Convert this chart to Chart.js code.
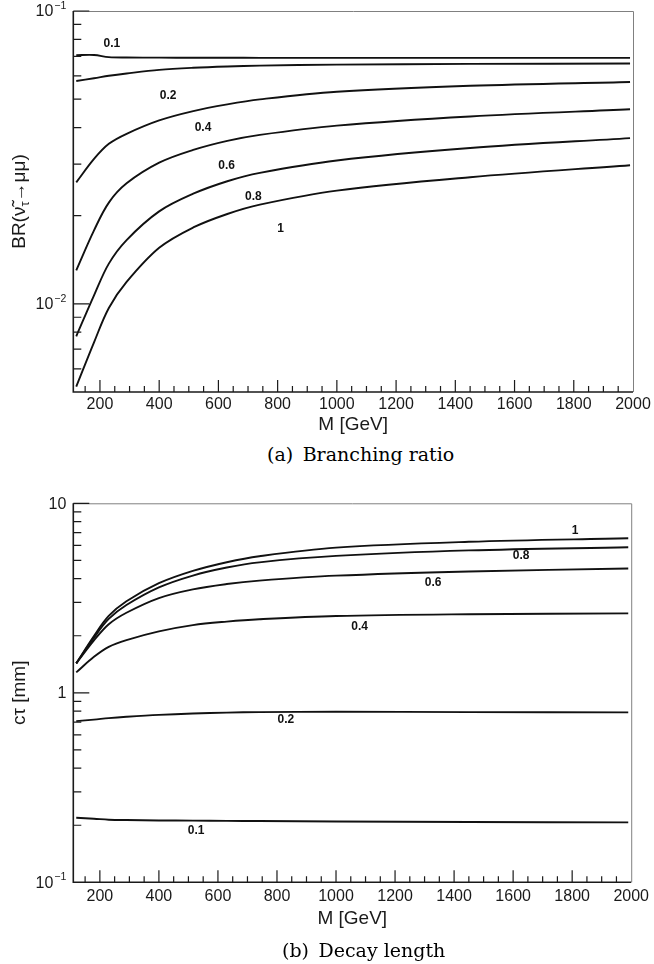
<!DOCTYPE html>
<html>
<head>
<meta charset="utf-8">
<script src="https://cdn.jsdelivr.net/npm/chart.js@4.4.0/dist/chart.umd.min.js"></script>
<style>
  body { margin: 0; background: #fff; width: 654px; height: 964px; position: relative; overflow: hidden; }
  canvas { position: absolute; left: 0; }
  #brCanvas { top: 0; }
  #ctCanvas { top: 480px; }
  .cap { position: absolute; font-family: "DejaVu Serif", serif; font-size: 19px; line-height: 19px; color: #000; white-space: pre; }
</style>
</head>
<body>
<canvas id="brCanvas" width="654" height="440"></canvas>
<canvas id="ctCanvas" width="654" height="460"></canvas>
<div class="cap" style="left:267px;top:445px">(a)&ensp;Branching ratio</div>
<div class="cap" style="left:282px;top:941px">(b)&ensp;Decay length</div>
<script>
const massGrid = [120, 180, 230, 290, 400, 515, 630, 740, 1000, 1450, 1990];
const couplings = ['0.1', '0.2', '0.4', '0.6', '0.8', '1'];

// (a) branching ratio, one array per coupling
const br01 = [0.07067, 0.07078, 0.06956, 0.06934, 0.06929, 0.06923, 0.06923, 0.06918, 0.06918, 0.06918, 0.06918];
const br02 = [0.05768, 0.05892, 0.06009, 0.06120, 0.06296, 0.06401, 0.06467, 0.06508, 0.06560, 0.06596, 0.06617];
const br04 = [0.02600, 0.03126, 0.03519, 0.03808, 0.04231, 0.04552, 0.04799, 0.04992, 0.05301, 0.05553, 0.05722];
const br06 = [0.01302, 0.01782, 0.02217, 0.02579, 0.03034, 0.03354, 0.03601, 0.03775, 0.04060, 0.04363, 0.04617];
const br08 = [0.00775, 0.01069, 0.01372, 0.01651, 0.02069, 0.02377, 0.02622, 0.02800, 0.03087, 0.03405, 0.03681];
const br10 = [0.00522, 0.00739, 0.00968, 0.01188, 0.01554, 0.01823, 0.02027, 0.02182, 0.02436, 0.02706, 0.02975];

// (b) decay length c*tau [mm]
const ct01 = [0.219, 0.2165, 0.214, 0.213, 0.212, 0.2115, 0.211, 0.2105, 0.2095, 0.208, 0.207];
const ct02 = [0.709, 0.722, 0.735, 0.747, 0.765, 0.778, 0.786, 0.791, 0.794, 0.791, 0.788];
const ct04 = [1.282, 1.549, 1.749, 1.898, 2.110, 2.277, 2.376, 2.444, 2.541, 2.597, 2.626];
const ct06 = [1.430, 1.889, 2.300, 2.645, 3.162, 3.515, 3.749, 3.907, 4.152, 4.370, 4.527];
const ct08 = [1.430, 1.954, 2.453, 2.904, 3.599, 4.157, 4.582, 4.881, 5.276, 5.641, 5.864];
const ct10 = [1.430, 1.995, 2.544, 3.042, 3.786, 4.396, 4.887, 5.257, 5.836, 6.262, 6.534];

// axis ticks
const xTickValues = [200, 400, 600, 800, 1000, 1200, 1400, 1600, 1800, 2000];
const brYTicks = [0.01, 0.1];
const brYLabels = [['10', '\u22122'], ['10', '\u22121']];
const ctYTicks = [0.1, 1, 10];
const ctYLabels = [['10', '\u22121'], ['1', ''], ['10', '']];

// curve label anchors (data units)
const brLabelM = [240, 430, 548, 628, 718, 810];
const brLabelV = [0.0775, 0.0515, 0.0401, 0.02965, 0.02323, 0.01799];
const ctLabelM = [526, 830, 1080, 1329, 1627, 1810];
const ctLabelV = [0.1866, 0.7176, 2.223, 3.795, 5.27, 7.18];

const FONT = '"Liberation Sans", Arial, Helvetica, sans-serif';
const INK = '#1a1a1a';

function rootPlugin(cfg) {
  return {
    id: 'rootFrame',
    afterDraw(chart) {
      const { ctx, chartArea: a, scales: { x, y } } = chart;
      ctx.save();
      // frame
      ctx.strokeStyle = '#808080';
      ctx.lineWidth = 1;
      ctx.beginPath();
      ctx.moveTo(a.left, a.top + 0.5);
      ctx.lineTo(a.right + 0.5, a.top + 0.5);
      ctx.lineTo(a.right + 0.5, a.bottom);
      ctx.stroke();
      ctx.strokeStyle = INK;
      ctx.lineWidth = 1.6;
      ctx.beginPath();
      ctx.moveTo(a.left, a.top);
      ctx.lineTo(a.left, a.bottom);
      ctx.lineTo(a.right, a.bottom);
      ctx.stroke();

      // ticks, drawn inside the frame
      ctx.lineWidth = 1.2;
      ctx.beginPath();
      for (let m = 150; m < 2000; m += 50) {
        const px = x.getPixelForValue(m);
        const len = xTickValues.includes(m) ? 12 : 6;
        ctx.moveTo(px, a.bottom);
        ctx.lineTo(px, a.bottom - len);
      }
      const d0 = Math.floor(Math.log10(cfg.yMin));
      const d1 = Math.ceil(Math.log10(cfg.yMax));
      for (let d = d0; d <= d1; d++) {
        for (let k = 1; k <= 9; k++) {
          const v = k * Math.pow(10, d);
          if (v <= cfg.yMin * 1.0001 || v > cfg.yMax * 1.0001) continue;
          const py = y.getPixelForValue(v);
          ctx.moveTo(a.left, py);
          ctx.lineTo(a.left + (k === 1 ? 16 : 8), py);
        }
      }
      ctx.stroke();

      // y tick labels with exponents
      ctx.fillStyle = INK;
      ctx.textBaseline = 'middle';
      ctx.textAlign = 'left';
      cfg.yTicks.forEach((v, i) => {
        const py = y.getPixelForValue(v);
        const [base, exp] = cfg.yLabels[i];
        ctx.font = `16px ${FONT}`;
        const wb = ctx.measureText(base).width;
        ctx.font = `10.5px ${FONT}`;
        const we = exp ? ctx.measureText(exp).width + 1 : 0;
        const right = a.left - 7;
        ctx.font = `16px ${FONT}`;
        ctx.fillText(base, right - we - wb, py + 1);
        if (exp) {
          ctx.font = `10.5px ${FONT}`;
          ctx.fillText(exp, right - we + 1, py - 5);
        }
      });

      // rotated y title
      let total = 0;
      cfg.yTitle.forEach(p => { ctx.font = `${p[1]}px ${FONT}`; total += ctx.measureText(p[0]).width; });
      ctx.save();
      ctx.translate(25, (a.top + a.bottom) / 2);
      ctx.rotate(-Math.PI / 2);
      ctx.textBaseline = 'alphabetic';
      let tx = -total / 2;
      cfg.yTitle.forEach(p => {
        ctx.font = `${p[1]}px ${FONT}`;
        ctx.fillText(p[0], tx, p[2]);
        tx += ctx.measureText(p[0]).width;
      });
      ctx.restore();

      // curve labels
      ctx.font = `bold 12px ${FONT}`;
      ctx.textAlign = 'center';
      ctx.textBaseline = 'middle';
      ctx.fillStyle = '#111';
      cfg.labelText.forEach((t, i) => {
        ctx.fillText(t, x.getPixelForValue(cfg.labelM[i]), y.getPixelForValue(cfg.labelV[i]));
      });
      ctx.restore();
    }
  };
}

function makeChart(id, series, cfg) {
  const datasets = series.map((vals, i) => ({
    label: couplings[i],
    data: massGrid.map((m, j) => ({ x: m, y: vals[j] })),
    borderColor: '#111',
    borderWidth: 1.9,
    pointRadius: 0,
    fill: false,
    tension: 0.35
  }));
  return new Chart(document.getElementById(id), {
    type: 'line',
    data: { datasets },
    options: {
      responsive: false,
      animation: false,
      layout: { padding: { left: 0, right: 21, top: cfg.padTop, bottom: 0 } },
      plugins: { legend: { display: false }, tooltip: { enabled: false } },
      scales: {
        x: {
          type: 'linear', min: 110, max: 2000,
          grid: { display: false, drawTicks: false },
          border: { display: false },
          afterBuildTicks: s => { s.ticks = xTickValues.map(v => ({ value: v })); },
          afterFit: s => { s.height = cfg.xHeight; },
          ticks: {
            padding: cfg.tickPad, color: INK, maxRotation: 0, autoSkip: false,
            font: { family: FONT, size: 16 },
            callback: v => String(v)
          },
          title: { display: true, text: 'M [GeV]', color: INK, font: { family: FONT, size: 19 }, padding: { top: 0, bottom: cfg.titlePad } }
        },
        y: {
          type: 'logarithmic', min: cfg.yMin, max: cfg.yMax,
          grid: { display: false, drawTicks: false },
          border: { display: false },
          ticks: { display: false },
          afterFit: s => { s.width = 73.3; }
        }
      }
    },
    plugins: [rootPlugin(cfg)]
  });
}

makeChart('brCanvas', [br01, br02, br04, br06, br08, br10], {
  yMin: 0.005, yMax: 0.1, padTop: 11, xHeight: 48, tickPad: 3, titlePad: 4,
  yTicks: brYTicks, yLabels: brYLabels,
  yTitle: [['BR(\u03bd\u0303', 19, 0], ['\u03c4', 13, 4], ['\u2192\u03bc\u03bc)', 19, 0]],
  labelText: couplings, labelM: brLabelM, labelV: brLabelV
});

makeChart('ctCanvas', [ct01, ct02, ct04, ct06, ct08, ct10], {
  yMin: 0.1, yMax: 10, padTop: 23.3, xHeight: 57.7, tickPad: 5, titlePad: 10,
  yTicks: ctYTicks, yLabels: ctYLabels,
  yTitle: [['c\u03c4 [mm]', 19, 0]],
  labelText: couplings, labelM: ctLabelM, labelV: ctLabelV
});
</script>
</body>
</html>
